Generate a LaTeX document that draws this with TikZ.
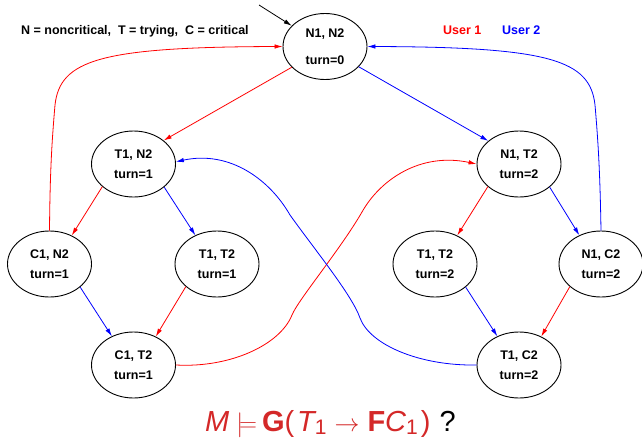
\documentclass[tikz,border=0pt]{standalone}
\usepackage{fontspec}
\setmainfont{Liberation Sans}
\usetikzlibrary{shapes.geometric,arrows.meta}
\definecolor{ured}{RGB}{255,0,0}
\definecolor{ublue}{RGB}{0,0,255}
\definecolor{fred}{RGB}{212,40,40}
\newcommand{\fsub}[1]{\raisebox{-3pt}{\fontsize{21}{22}\selectfont #1}}
\begin{document}
\begin{tikzpicture}[x=1pt,y=-1pt,
  state/.style={ellipse,draw=black,line width=0.9pt,minimum width=84pt,minimum height=66pt,
    inner sep=0pt,align=center,font=\fontsize{12.5}{15}\selectfont\bfseries},
  tip/.style={-{Latex[length=8pt,width=4.5pt]}},
  redge/.style={draw=ured,line width=0.8pt,tip},
  bedge/.style={draw=ublue,line width=0.8pt,tip},
  kedge/.style={draw=black,line width=0.8pt,tip},
  lbl/.style={inner sep=0pt,font=\fontsize{12.5}{15}\selectfont\bfseries}
]
\useasboundingbox (0,0) rectangle (642,439);
\fill[white] (0,0) rectangle (642,439);

% states
\node[state] (A) at (325,46.5) {N1, N2\\[12pt]turn=0};
\node[state] (B) at (133.5,164) {T1, N2\\[4.5pt]turn=1};
\node[state] (C) at (49.5,264) {C1, N2\\[4.5pt]turn=1};
\node[state] (D) at (217,264) {T1, T2\\[4.5pt]turn=1};
\node[state] (E) at (133.5,365) {C1, T2\\[4.5pt]turn=1};
\node[state] (F) at (519,164) {N1, T2\\[4.5pt]turn=2};
\node[state] (G) at (435,264) {T1, T2\\[4.5pt]turn=2};
\node[state] (H) at (601,264) {N1, C2\\[4.5pt]turn=2};
\node[state] (I) at (519,365) {T1, C2\\[4.5pt]turn=2};

% labels
\node[lbl,anchor=base west] (legend) at (21,34) {N = noncritical,\ \ T = trying,\ \ C = critical};
\node[lbl,anchor=base west,text=ured] (u1) at (443,34) {User 1};
\node[lbl,anchor=base west,text=ublue] (u2) at (502,34) {User 2};
\node[inner sep=0pt,anchor=base west,text=fred,font=\fontsize{29}{30}\selectfont] (formula) at (205,431)
  {\itshape M\upshape\hspace{7pt}$\models$\hspace{5pt}\textbf{G}(\hspace{3pt}\itshape T\upshape\fsub{1}\hspace{8pt}$\rightarrow$\hspace{8pt}\textbf{F}\itshape C\upshape\fsub{1}\hspace{3pt})\hspace{9pt}\textcolor{black}{?}};

% initial arrow
\coordinate (init) at (259,5);
\draw[kedge] (init) -- (A.148);

% straight transitions
\draw[redge] (A.212) -- (B.38);
\draw[bedge] (A.329) -- (F.143);
\draw[redge] (B.216) -- (C.52);
\draw[bedge] (B.323) -- (D.127);
\draw[bedge] (C.323) -- (E.127);
\draw[redge] (D.216) -- (E.52);
\draw[redge] (F.216) -- (G.52);
\draw[bedge] (F.323) -- (H.127);
\draw[bedge] (G.323) -- (I.127);
\draw[redge] (H.216) -- (I.52);

% return transitions to the start state
\draw[redge] (C.90) .. controls (50,170) and (52,140) .. (55,105)
  .. controls (60,60) and (100,47) .. (A.180);
\draw[bedge] (H.90) .. controls (600,170) and (598,140) .. (595,105)
  .. controls (590,60) and (550,47) .. (A.0);

% long crossing curves
\draw[redge] (E.0) .. controls (230,368) and (280,345) .. (292,315)
  .. controls (298,300) and (340,250) .. (362,212)
  .. controls (380,180) and (420,152) .. (F.180);
\draw[bedge] (I.180) .. controls (420,366) and (370,345) .. (360,318)
  .. controls (352,295) and (315,250) .. (290,215)
  .. controls (270,180) and (230,150) .. (B.3);
\end{tikzpicture}
\end{document}
